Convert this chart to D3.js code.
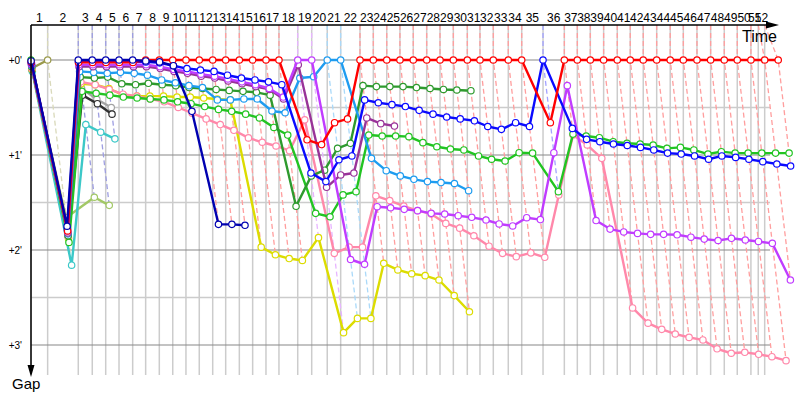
<!DOCTYPE html>
<html><head><meta charset="utf-8">
<script src="https://cdn.jsdelivr.net/npm/d3@7"></script>
<style>
html,body{margin:0;padding:0;background:#fff;}
svg{display:block;font-family:"Liberation Sans",Arial,sans-serif;}
</style></head>
<body>
<svg id="chart" width="800" height="400"></svg>
<script>
// ---- data (time in minutes, gap in minutes) ----
// leader crossing time for laps 0..52
const lapTimes = [0, 1.50, 4.26, 5.52, 6.73, 7.93, 9.16, 10.33, 11.56, 12.77,
  13.96, 15.16, 16.37, 17.54, 18.77, 19.97, 21.17, 22.34, 24.03, 25.29,
  26.69, 27.90, 29.64, 30.84, 32.05, 33.24, 34.44, 35.65, 36.85, 38.05,
  39.31, 40.45, 41.65, 43.00, 44.21, 46.13, 48.05, 49.22, 50.39, 51.59,
  52.82, 53.99, 55.16, 56.37, 57.59, 58.77, 60.00, 61.23, 62.46, 63.63,
  64.86, 66.10, 67.32];
// vertical grid times (lap boundaries)
const gridTimes = lapTimes.slice(0, 51).concat([65.52, 66.10]);
const lapLabels = d3.range(1, 53).map(String);
const gapTicks = [0, 1, 2, 3];
const gapTickLabels = ["+0'", "+1'", "+2'", "+3'"];
const minorGapTicks = [0.5, 1.5, 2.5];

// gaps per lap, starting at lap 0
const red = [0.02, 1.8, 0.025, 0.025, 0.025, 0.025, 0.025, 0,
  0, 0, 0, 0, 0, 0, 0, 0, 0, 0,
  0.84, 0.89, 0.66, 0.62,
  0, 0, 0, 0, 0, 0, 0, 0, 0, 0, 0, 0, 0,
  0.66,
  0, 0, 0, 0, 0, 0, 0, 0, 0, 0, 0, 0, 0, 0, 0, 0, 0];
const navy = [0.01, 1.75, 0, 0, 0, 0, 0, 0.01, 0.02, 0.06, 0.54, 1.73, 1.73, 1.74];
const blue = [0.03, 1.78, 0.02, 0.02, 0.02, 0.02, 0.02, 0.02, 0.03, 0.06, 0.09, 0.105,
  0.12, 0.16, 0.19, 0.21, 0.23, 0.26, 1.19, 1.28, 1.05, 1.01,
  0.42, 0.45, 0.47, 0.49, 0.53, 0.57, 0.60, 0.62, 0.64, 0.70, 0.73, 0.66, 0.70,
  0, 0.72, 0.835, 0.86, 0.884, 0.90, 0.92, 0.947, 0.98, 0.99, 1.01, 1.045,
  1.01, 1.025, 1.045, 1.07, 1.095, 1.116];
const violet = [0.04, 1.8, 0.05, 0.05, 0.05, 0.05, 0.05, 0.05, 0.07, 0.1, 0.12, 0.15,
  0.17, 0.2, 0.23, 0.26, 0.3, 0.39, 0, 0, 2.1, 2.15,
  1.544, 1.555, 1.572, 1.586, 1.614, 1.621, 1.639, 1.656, 1.684, 1.726, 1.747, 1.66, 1.68,
  0.976, 0.27, 1.69, 1.78, 1.81, 1.825, 1.835, 1.835, 1.84, 1.865, 1.885, 1.9,
  1.877, 1.895, 1.91, 1.93, 2.316];
const plum = [0.05, 1.82, 0.07, 0.07, 0.07, 0.07, 0.07, 0.07, 0.09, 0.12, 0.14, 0.17,
  0.19, 0.22, 0.25, 0.28, 0.31, 0.41, 0.05, 1.34, 1.21, 1.19, 0.61, 0.67, 0.695];
const sky = [0.06, 1.83, 0.12, 0.13, 0.14, 0.13, 0.14, 0.16, 0.21, 0.24, 0.27, 0.29,
  0.42, 0.42, 0.41, 0.41, 0.537, 0.555, 0.19, 0.176, 0, 0,
  1.035, 1.165, 1.22, 1.256, 1.28, 1.29, 1.30, 1.376];
const darkGreen = [0.07, 1.85, 0.18, 0.19, 0.18, 0.25, 0.26, 0.245, 0.26, 0.27, 0.29, 0.30,
  0.31, 0.32, 0.33, 0.34, 0.37, 1.54, 1.22, 1.16, 0.93, 0.877,
  0.27, 0.28, 0.28, 0.28, 0.29, 0.30, 0.31, 0.316, 0.323];
const green = [0, 1.92, 0.33, 0.35, 0.37, 0.39, 0.40, 0.41, 0.42, 0.44, 0.46, 0.49,
  0.52, 0.54, 0.57, 0.61, 0.71, 0.79, 1.614, 1.65, 1.42, 1.386,
  0.79, 0.8, 0.8, 0.807, 0.87, 0.913, 0.937, 0.947, 1.01, 1.045, 1.063, 0.976, 0.98,
  1.386, 0.78, 0.8, 0.818, 0.86, 0.877, 0.884, 0.895, 0.93, 0.92, 0.947, 0.99,
  0.965, 0.98, 0.98, 0.98, 0.98, 0.98];
const pink = [0.09, 1.86, 0.23, 0.26, 0.31, 0.36, 0.38, 0.41, 0.44, 0.5, 0.56, 0.62,
  0.68, 0.74, 0.82, 0.866, 0.905, 0.955, 0.63, 2.035, 1.97, 1.97,
  1.43, 1.48, 1.537, 1.586, 1.62, 1.72, 1.77, 1.85, 1.96, 2.035, 2.07, 2.03, 2.077,
  1.42, 0.79, 0.895, 1.035, 2.61, 2.77, 2.835, 2.884, 2.92, 2.947, 3.04, 3.087,
  3.077, 3.098, 3.123, 3.165];
const yellow = [0.1, 1.88, 0.25, 0.26, 0.3, 0.37, 0.38, 0.38, 0.38, 0.39, 0.39, 0.4,
  0.41, 0.42, 1.97, 2.05, 2.09, 2.11, 1.87, 2.87, 2.72, 2.72,
  2.14, 2.21, 2.25, 2.27, 2.316, 2.48, 2.65];
const gray = [0.08, 1.8, 0.3, 0.414, 0.5];
const black = [0.1, 1.85, 0.37, 0.46, 0.57];
const cyan = [0.12, 2.16, 0.68, 0.76, 0.83];
const yellowGreen = [0.09, 1.66, 1.445, 1.53];
const olive = [0.087, 0];

const series = [
  {gaps: olive, color: "#9a9a4a"},
  {gaps: yellowGreen, color: "#a2c866"},
  {gaps: cyan, color: "#3cc8c8"},
  {gaps: gray, color: "#a4a4a4"},
  {gaps: black, color: "#303030"},
  {gaps: yellow, color: "#dcdc00"},
  {gaps: pink, color: "#ff88aa"},
  {gaps: green, color: "#22c422"},
  {gaps: darkGreen, color: "#2e9a2e"},
  {gaps: sky, color: "#1e9cf0"},
  {gaps: plum, color: "#993399"},
  {gaps: violet, color: "#c03cff"},
  {gaps: blue, color: "#0a0aff"},
  {gaps: red, color: "#ff0000"},
  {gaps: navy, color: "#0000b0"}
];

// ---- layout ----
const svg = d3.select("#chart");
const x = d3.scaleLinear().domain([0, 67.3]).range([31, 778]);
const y = d3.scaleLinear().domain([0, 3]).range([60, 345]);
const axisY = 25, plotBottom = 375, hGridRight = 770;

const px = (lap, g) => x(lapTimes[lap] + g);

// horizontal grid
svg.append("g").selectAll("line").data(minorGapTicks).join("line")
  .attr("x1", 31).attr("x2", hGridRight)
  .attr("y1", d => y(d)).attr("y2", d => y(d))
  .attr("stroke", "#cccccc").attr("stroke-width", 1.5);
// vertical grid
svg.append("g").selectAll("line").data(gridTimes).join("line")
  .attr("x1", d => x(d)).attr("x2", d => x(d))
  .attr("y1", axisY).attr("y2", plotBottom)
  .attr("stroke", "#cccccc").attr("stroke-width", 1.5);
svg.append("g").selectAll("line").data(gapTicks).join("line")
  .attr("x1", 31).attr("x2", hGridRight)
  .attr("y1", d => y(d)).attr("y2", d => y(d))
  .attr("stroke", "#888888").attr("stroke-width", 1.2);

// lap lines (dashed, leader colour)
const lapLines = [];
for (let n = 1; n < lapTimes.length; n++) {
  let leader = null, maxGap = -1;
  series.forEach(s => {
    const g = s.gaps[n];
    if (g === undefined || g === null) return;
    if (leader === null || g < leader.gaps[n]) leader = s;
    if (g > maxGap) maxGap = g;
  });
  if (!leader) continue;
  lapLines.push({n, color: leader.color, maxGap});
}
svg.append("g").selectAll("path").data(lapLines).join("path")
  .attr("d", d => `M${x(gridTimes[d.n])},${axisY} L${x(lapTimes[d.n])},${y(0)} L${px(d.n, d.maxGap)},${y(d.maxGap)}`)
  .attr("fill", "none")
  .attr("stroke", d => d3.interpolateRgb(d.color, "#ffffff")(0.62))
  .attr("stroke-width", 1.3)
  .attr("stroke-dasharray", "5,3");

// series
const line = d3.line().x(d => px(d.lap, d.gap)).y(d => y(d.gap));
series.forEach(s => {
  const pts = s.gaps.map((g, lap) => ({lap, gap: g})).filter(d => d.gap !== null);
  const g = svg.append("g");
  g.append("path").datum(pts).attr("d", line)
    .attr("fill", "none").attr("stroke", s.color).attr("stroke-width", 2.4)
    .attr("stroke-linejoin", "round");
  g.selectAll("circle").data(pts).join("circle")
    .attr("cx", d => px(d.lap, d.gap)).attr("cy", d => y(d.gap)).attr("r", 3.2)
    .attr("fill", "#ffffff").attr("stroke", s.color).attr("stroke-width", 1.2);
});

// axes
svg.append("line").attr("x1", 31).attr("x2", 768).attr("y1", axisY).attr("y2", axisY)
  .attr("stroke", "#000").attr("stroke-width", 1.5);
svg.append("path").attr("d", `M779,${axisY} L766,${axisY - 3.5} L766,${axisY + 3.5} Z`).attr("fill", "#000");
svg.append("line").attr("x1", 31).attr("x2", 31).attr("y1", axisY).attr("y2", 366)
  .attr("stroke", "#000").attr("stroke-width", 1.5);
svg.append("path").attr("d", `M31,377 L27.5,365 L34.5,365 Z`).attr("fill", "#000");

// lap labels
svg.append("g").selectAll("text").data(lapLabels).join("text")
  .attr("x", (d, i) => (x(gridTimes[i]) + x(gridTimes[i + 1])) / 2)
  .attr("y", 22)
  .attr("text-anchor", "middle").attr("font-size", 12).attr("fill", "#000")
  .text(d => d);

// gap labels
svg.append("g").selectAll("text").data(gapTicks).join("text")
  .attr("x", 22).attr("y", d => y(d) + 3.5)
  .attr("text-anchor", "end").attr("font-size", 10).attr("fill", "#000")
  .text((d, i) => gapTickLabels[i]);

svg.append("text").attr("x", 777).attr("y", 42).attr("text-anchor", "end")
  .attr("font-size", 16).text("Time");
svg.append("text").attr("x", 12).attr("y", 389).attr("text-anchor", "start")
  .attr("font-size", 15).text("Gap");
</script>
</body></html>
